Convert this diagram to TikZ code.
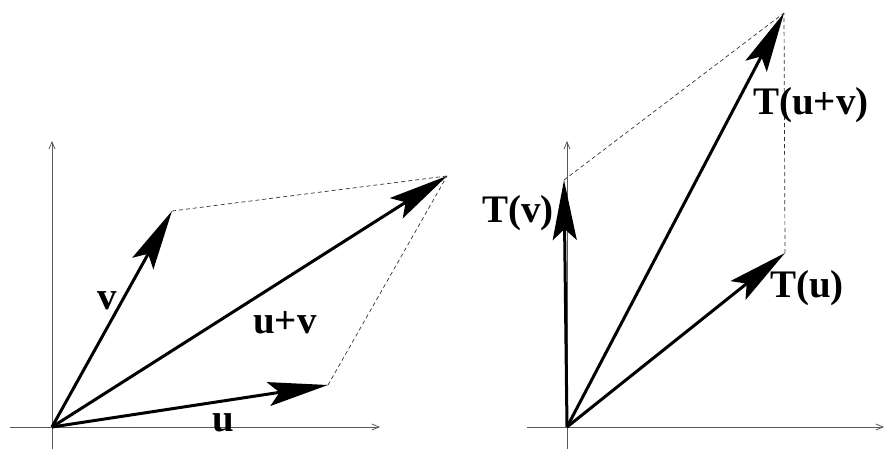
\documentclass[tikz,border=0pt]{standalone}
\usepackage{fontspec}
\setmainfont{Liberation Serif}
\usetikzlibrary{arrows.meta,positioning}

\begin{document}
\begin{tikzpicture}[x=1pt, y=-1pt,
  axis/.style={draw=gray!70!black, line width=0.8pt, -{Straight Barb[length=7pt,width=6pt]}},
  vec/.style={line width=3pt, -{Stealth[length=60pt,width=24pt,inset=11pt]}},
  guide/.style={dash pattern=on 4pt off 3pt, line width=0.7pt, draw=black!80},
  lab/.style={font=\fontsize{39}{42}\selectfont\bfseries, inner sep=0pt}
]
  \useasboundingbox (0,0) rectangle (885,449);

  % left: u, v and u+v
  \coordinate (o1)   at (52,427);
  \coordinate (x1a)  at (10,427);
  \coordinate (x1b)  at (380,427);
  \coordinate (y1a)  at (52,449);
  \coordinate (y1b)  at (52,141);
  \coordinate (uend)  at (328,385);
  \coordinate (vend)  at (172,211);
  \coordinate (uvend) at (447,176);

  \draw[axis] (x1a) -- (x1b);
  \draw[axis] (y1a) -- (y1b);
  \draw[guide] (vend) -- (uvend);
  \draw[guide] (uend) -- (uvend);
  \draw[vec] (o1) -- (uend);
  \draw[vec] (o1) -- (vend);
  \draw[vec] (o1) -- (uvend);

  \node[lab] (ulab)  at (223,423) {u};
  \node[lab] (vlab)  at (107,301) {v};
  \node[lab] (uvlab) at (285,323) {u+v};

  % right: T(u), T(v) and T(u+v)
  \coordinate (o2)   at (567,427);
  \coordinate (x2a)  at (527,427);
  \coordinate (x2b)  at (884,427);
  \coordinate (y2a)  at (567,449);
  \coordinate (y2b)  at (567,141);
  \coordinate (tuend)  at (785,253);
  \coordinate (tvend)  at (564,180);
  \coordinate (tuvend) at (784,13);

  \draw[axis] (x2a) -- (x2b);
  \draw[axis] (y2a) -- (y2b);
  \draw[guide] (tvend) -- (tuvend);
  \draw[guide] (tuend) -- (tuvend);
  \draw[vec] (o2) -- (tuend);
  \draw[vec] (o2) -- (tvend);
  \draw[vec] (o2) -- (tuvend);

  \node[lab] (tvlab)  at (518,213) {T(v)};
  \node[lab] (tuvlab) at (811,105) {T(u+v)};
  \node[lab] (tulab)  at (807,288) {T(u)};
\end{tikzpicture}
\end{document}
